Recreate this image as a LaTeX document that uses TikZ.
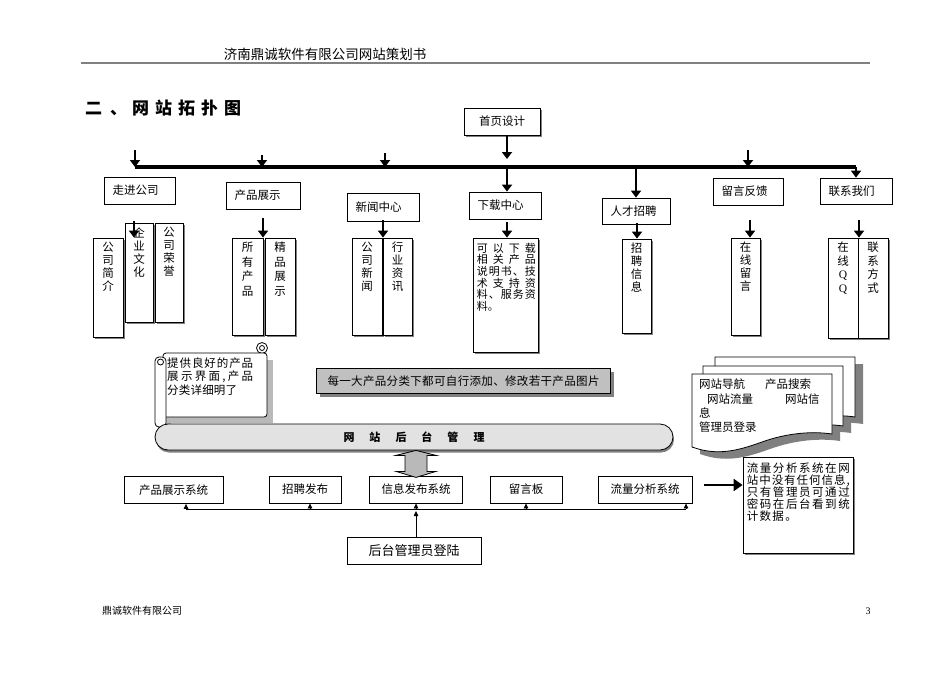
\documentclass[tikz,border=0pt]{standalone}
\usepackage{fontspec}
\setmainfont{Noto Sans CJK SC}
\newfontfamily\latinfont{Liberation Serif}
\usetikzlibrary{arrows.meta, positioning, shadows}
\definecolor{noteGray}{RGB}{192,192,192}
\definecolor{barGray}{RGB}{226,226,226}
\definecolor{shadowGray}{RGB}{128,128,128}
\newcommand{\fsz}[2]{\fontsize{#1}{#2}\selectfont}
\newcommand{\spreadtext}[2]{\hbox to #1{\spreadchars#2\relax\unskip}}
\def\spreadchars#1{\ifx#1\relax\else#1\hfil\expandafter\spreadchars\fi}

\begin{document}
\begin{tikzpicture}[
    x=1pt, y=-1pt,
    shadowed/.style={drop shadow={shadow xshift=2pt, shadow yshift=-2pt, fill=shadowGray, opacity=1}},
    box/.style={rectangle, draw, line width=0.8pt, fill=white, inner xsep=8.5pt, inner ysep=0pt, align=left, font=\fsz{11.5}{13}},
    vbox/.style={rectangle, draw, line width=0.8pt, fill=white, inner sep=0pt, shadowed},
    vtext/.style={align=center, inner sep=0pt, font=\fsz{11.5}{13}},
    sysbox/.style={rectangle, draw, line width=0.8pt, fill=white, inner sep=0pt, minimum height=27pt, font=\fsz{11.5}{13}},
    arrow/.style={-{Triangle[length=7pt, width=10pt]}, line width=2.4pt},
    thinarrow/.style={-{Triangle[length=5pt, width=4.5pt]}, line width=0.8pt}
]
\useasboundingbox (0,0) rectangle (950,672);
\fill[white] (0,0) rectangle (950,672);

% page header
\node[inner sep=0pt, font=\fsz{13.5}{14}] (header) at (325,54) {济南鼎诚软件有限公司网站策划书};
\coordinate (ruleL) at (81,63);
\coordinate (ruleR) at (870,63);
\draw[shadowGray, line width=1.5pt] (ruleL) -- (ruleR);
\node[anchor=west, inner sep=0pt, font=\bfseries\fsz{17}{17}] (title) at (85,108.5)
    {二\hspace{8pt}、\hspace{5pt}网\hspace{6pt}站\hspace{6pt}拓\hspace{6pt}扑\hspace{6pt}图};

% home page and bus
\node[box, text width=59pt, align=center, minimum height=27pt, shadowed] (sysj) at (502,121.5) {首页设计};
\coordinate (busL) at (135,167);
\coordinate (busR) at (856,167);
\coordinate (hub) at (507,167);
\draw[line width=3.5pt] (busL) -- (busR);

% first level
\node[box, text width=54pt, minimum height=27pt] (zjgs) at (139.5,190.5) {走进公司};
\node[box, text width=57pt, minimum height=27pt] (cpzs) at (263,195.5) {产品展示};
\node[box, text width=55pt, minimum height=28pt] (xwzx) at (383,207) {新闻中心};
\node[box, text width=55pt, minimum height=27pt] (xzzx) at (505,205.5) {下载中心};
\node[box, text width=51pt, minimum height=26pt] (rczp) at (636,211) {人才招聘};
\node[box, text width=53pt, minimum height=27pt] (lyfk) at (748,191.5) {留言反馈};
\node[box, text width=55pt, minimum height=26pt] (lxwm) at (856,191) {联系我们};

\foreach \x/\t [count=\i] in {135/150, 262/155, 385/153, 748/150} {
    \coordinate (drop\i) at (\x,\t);
    \draw[arrow] (drop\i) -- (drop\i |- busL);
}
\draw[arrow, shorten >=8pt] (sysj.south -| hub) -- (hub);
\draw[arrow] (hub) -- (hub |- xzzx.north);
\draw[arrow] (busL -| rczp.north) -- (rczp.north);
\draw[arrow] (busR) -- (busR |- lxwm.north);

% second level
\node[vbox, minimum width=30pt, minimum height=99pt] (gsjj) at (108,287.5) {};
\node[vtext, below=4.5pt of gsjj.north] (gsjjt) {公\\司\\简\\介};
\node[vbox, minimum width=28pt, minimum height=99pt] (qywh) at (139,272.5) {};
\node[vtext, below=4.5pt of qywh.north] (qywht) {企\\业\\文\\化};
\node[vbox, minimum width=28pt, minimum height=99pt] (gsry) at (169,272.5) {};
\node[vtext, below=4.5pt of gsry.north] (gsryt) {公\\司\\荣\\誉};

\node[vbox, minimum width=31pt, minimum height=97pt] (sycp) at (247.5,286.5) {};
\node[vtext, font=\fsz{11.5}{14.5}, below=4.5pt of sycp.north] (sycpt) {所\\有\\产\\品};
\node[vbox, minimum width=30pt, minimum height=97pt] (jpzs) at (280,286.5) {};
\node[vtext, font=\fsz{11.5}{14.5}, below=4.5pt of jpzs.north] (jpzst) {精\\品\\展\\示};

\node[vbox, minimum width=30pt, minimum height=97pt] (gsxw) at (367,286.5) {};
\node[vtext, below=4.5pt of gsxw.north] (gsxwt) {公\\司\\新\\闻};
\node[vbox, minimum width=29pt, minimum height=97pt] (hyzx) at (397.5,286.5) {};
\node[vtext, below=4.5pt of hyzx.north] (hyzxt) {行\\业\\资\\讯};

\node[vbox, minimum width=65pt, minimum height=114pt] (xzsm) at (505.5,295) {};
\node[align=left, inner sep=0pt, font=\fsz{11}{11.7}, below right=5pt and 4pt of xzsm.north west] (xzsmt)
    {\spreadtext{59pt}{可以下载}\\\spreadtext{59pt}{相关产品}\\\spreadtext{59pt}{说明书、技}\\
     \spreadtext{59pt}{术支持资}\\\spreadtext{59pt}{料、服务资}\\料。};

\node[vbox, minimum width=29pt, minimum height=94pt] (zpxx) at (636.5,286) {};
\node[vtext, below=4.5pt of zpxx.north] (zpxxt) {招\\聘\\信\\息};
\node[vbox, minimum width=29pt, minimum height=97pt] (zxly) at (745.5,286.5) {};
\node[vtext, below=4.5pt of zxly.north] (zxlyt) {在\\线\\留\\言};
\node[vbox, minimum width=30pt, minimum height=100pt] (zxqq) at (843,288) {};
\node[vtext, font=\fsz{11.5}{13.5}, below=4.5pt of zxqq.north] (zxqqt) {在\\线\\{\latinfont Q}\\{\latinfont Q}};
\node[vbox, minimum width=30pt, minimum height=100pt] (lxfs) at (873,288) {};
\node[vtext, font=\fsz{11.5}{13.5}, below=4.5pt of lxfs.north] (lxfst) {联\\系\\方\\式};

\foreach \x/\t/\b [count=\i] in {134/221/gsjj, 263/218/sycp, 383/220/gsxw, 507/222/xzsm, 637/223/zpxx, 750/220/zxly, 859/220/zxqq} {
    \coordinate (sub\i) at (\x,\t);
    \draw[arrow] (sub\i) -- (sub\i |- \b.north);
}

% scroll note
\fill[gray!55] (171,360) rectangle (273,423);
\fill[gray!55, rounded corners=4pt] (161,364) rectangle (171,433);
\draw[fill=white, line width=0.8pt] (262,348) circle (5.5);
\draw[fill=white, line width=0.8pt, rounded corners=3pt] (163,353) rectangle (267,417);
\draw[line width=0.8pt] (262,348) circle (2.5);
\draw[fill=white, line width=0.8pt, rounded corners=4pt] (155,357) rectangle (166,427);
\draw[fill=white, line width=0.8pt] (160.5,362) circle (3);
\node[anchor=north west, align=left, inner sep=0pt, font=\fsz{11.5}{13.5}] (scrollt) at (167,357.5)
    {\spreadtext{86pt}{提供良好的产品}\\\spreadtext{86pt}{展示界面,产品}\\\spreadtext{70pt}{分类详细明了}};

% gray note
\node[rectangle, draw, line width=0.8pt, fill=noteGray, minimum width=294pt, minimum height=25pt, inner sep=0pt,
      font=\fsz{11.5}{13}, drop shadow={shadow xshift=3pt, shadow yshift=-3pt, fill=shadowGray, opacity=1}] (note) at (463.5,381)
    {\spreadtext{272pt}{每一大产品分类下都可自行添加、修改若干产品图片}};

% admin bar
\node[rectangle, rounded corners=13pt, draw, line width=0.8pt, fill=barGray, minimum width=518pt, minimum height=26pt,
      inner sep=0pt, font=\bfseries\fsz{11}{11}, drop shadow={shadow xshift=1pt, shadow yshift=-2.5pt, fill=shadowGray, opacity=1}] (admin) at (414,437)
    {网\hspace{15pt}站\hspace{15pt}后\hspace{15pt}台\hspace{15pt}管\hspace{15pt}理};

% admin systems
\node[sysbox, minimum width=99pt] (cpxt) at (173.5,490) {产品展示系统};
\node[sysbox, minimum width=72pt] (zpfb) at (305,489.5) {招聘发布};
\node[sysbox, minimum width=93pt] (xxfb) at (416,489.5) {信息发布系统};
\node[sysbox, minimum width=72pt] (lyb) at (526,489.5) {留言板};
\node[sysbox, minimum width=94pt] (llfx) at (645,489.5) {流量分析系统};
\node[sysbox, minimum width=134pt, font=\fsz{13}{15}] (htdl) at (414,550.5) {后台管理员登陆};

\draw[fill=gray!55, line width=0.8pt] (admin.south -| xxfb) -- ++(20,5) -- ++(-9,0) -- ++(0,16) -- ++(9,0)
    -- ++(-20,6) -- ++(-20,-6) -- ++(9,0) -- ++(0,-16) -- ++(-9,0) -- cycle;

\coordinate (d1) at (186,509);
\coordinate (d2) at (310,509);
\coordinate (d3) at (416,509);
\coordinate (d4) at (526,509);
\coordinate (d5) at (686,509);
\draw[line width=0.8pt] (d1) -- (d5);
\foreach \d/\b in {d1/cpxt, d2/zpfb, d3/xxfb, d4/lyb, d5/llfx}
    \draw[thinarrow] (\d) -- (\d |- \b.south);
\draw[thinarrow, shorten >=2pt] (htdl.north -| d3) -- (d3);

% document stack
\foreach \dx/\dy in {23/-17, 11/-8, 0/0}
    \fill[shadowGray, shift={(700+\dx,381+\dy)}] (0,0) -- (140,0) -- (140,60) .. controls (120,57) and (95,59) .. (70,68)
        .. controls (45,77) and (25,82) .. (0,73) -- cycle;
\foreach \dx/\dy in {23/-17, 11/-8, 0/0}
    \draw[fill=white, line width=0.8pt, shift={(692+\dx,374+\dy)}] (0,0) -- (140,0) -- (140,60) .. controls (120,57) and (95,59) .. (70,68)
        .. controls (45,77) and (25,82) .. (0,73) -- cycle;
\node[anchor=north west, align=left, inner sep=0pt, font=\fsz{11.5}{14.3}] (stackt) at (699,379)
    {网站导航\hspace{20pt}产品搜索\\\hspace*{8pt}网站流量\hspace{32pt}网站信\\息\\管理员登录};

% traffic note
\node[rectangle, draw, line width=0.8pt, fill=white, minimum width=110pt, minimum height=96pt, shadowed] (llinfo) at (798,505) {};
\node[align=left, inner sep=0pt, font=\fsz{11.5}{12.2}, below right=5.5pt and 4pt of llinfo.north west] (llinfot)
    {\spreadtext{103pt}{流量分析系统在网}\\\spreadtext{103pt}{站中没有任何信息,}\\\spreadtext{103pt}{只有管理员可通过}\\
     \spreadtext{103pt}{密码在后台看到统}\\\spreadtext{50pt}{计数据。}};
\coordinate (la) at (704,485);
\draw[-{Triangle[length=9pt, width=12pt]}, line width=2.6pt] (la) -- (la -| llinfo.west);

% footer
\node[anchor=west, inner sep=0pt, font=\fsz{10}{10}] (footer) at (102,611) {鼎诚软件有限公司};
\node[inner sep=0pt, font=\latinfont\fsz{10}{10}] (pageno) at (868,611) {3};

\end{tikzpicture}
\end{document}
